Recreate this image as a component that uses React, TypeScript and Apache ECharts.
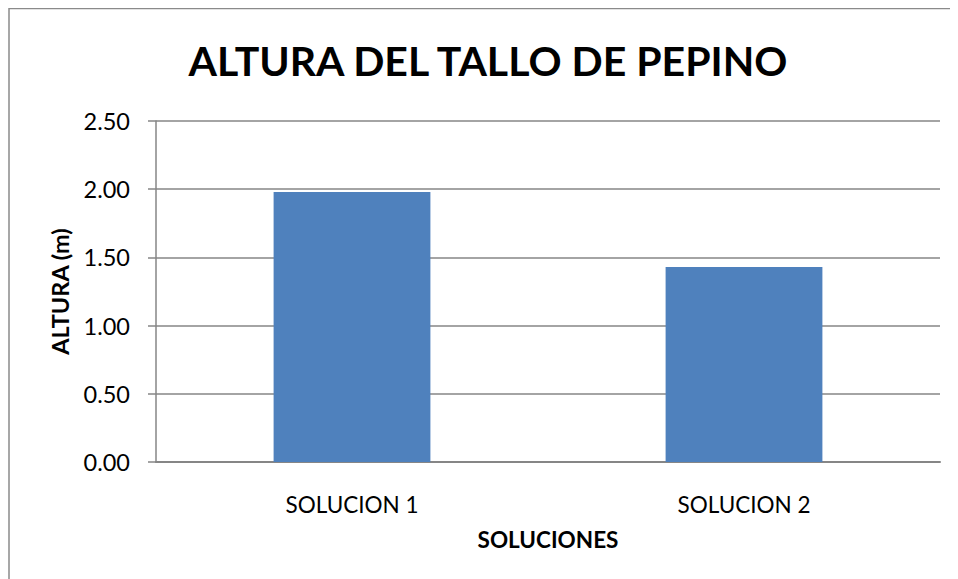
import React, { useEffect, useRef } from "react";
import * as echarts from "echarts";

const categories = ["SOLUCION 1", "SOLUCION 2"];
const alturas = [1.98, 1.43];
const titleText = "ALTURA DEL TALLO DE PEPINO";
const yName = "ALTURA (m)";
const xName = "SOLUCIONES";

const FONT = "Lato";

export default function App() {
  const ref = useRef<HTMLDivElement>(null);
  useEffect(() => {
    if (!ref.current) return;
    const chart = echarts.init(ref.current, null, { renderer: "svg" });
    chart.setOption({
      animation: false,
      backgroundColor: "#ffffff",
      title: {
        text: titleText,
        left: "center",
        top: 27,
        textStyle: { fontFamily: FONT, fontSize: 41, fontWeight: "bold", color: "#000" },
      },
      graphic: [
        {
          type: "rect",
          shape: { x: 1, y: 0.5, width: 2000, height: 2000 },
          style: { fill: "none", stroke: "#8a8a8a", lineWidth: 1.5 },
          silent: true,
        },
      ],
      grid: { left: 148, top: 113, width: 784, height: 341, containLabel: false },
      xAxis: {
        type: "category",
        data: categories,
        name: xName,
        nameLocation: "middle",
        nameGap: 66,
        nameTextStyle: { fontFamily: FONT, fontSize: 22.5, fontWeight: "bold", color: "#000" },
        axisLine: { show: true, lineStyle: { color: "#868686", width: 2 } },
        axisTick: { show: false },
        axisLabel: { fontFamily: FONT, fontSize: 22.5, color: "#000", margin: 31 },
      },
      yAxis: {
        type: "value",
        min: 0,
        max: 2.5,
        interval: 0.5,
        name: yName,
        nameLocation: "middle",
        nameGap: 84,
        nameRotate: 90,
        nameTextStyle: { fontFamily: FONT, fontSize: 23.5, fontWeight: "bold", color: "#000" },
        axisLine: { show: true, lineStyle: { color: "#868686", width: 1.5 } },
        axisTick: { show: true, length: 8, lineStyle: { color: "#868686", width: 1.5 } },
        axisLabel: {
          fontFamily: FONT,
          fontSize: 23.5,
          color: "#000",
          margin: 26,
          formatter: (v: number) => v.toFixed(2),
        },
        splitLine: { show: true, lineStyle: { color: "#868686", width: 1.5 } },
      },
      series: [
        {
          type: "bar",
          data: alturas,
          barWidth: "40%",
          itemStyle: { color: "#4f81bd" },
        },
      ],
    });
    return () => chart.dispose();
  }, []);
  return <div ref={ref} style={{ width: 960, height: 600 }} />;
}
